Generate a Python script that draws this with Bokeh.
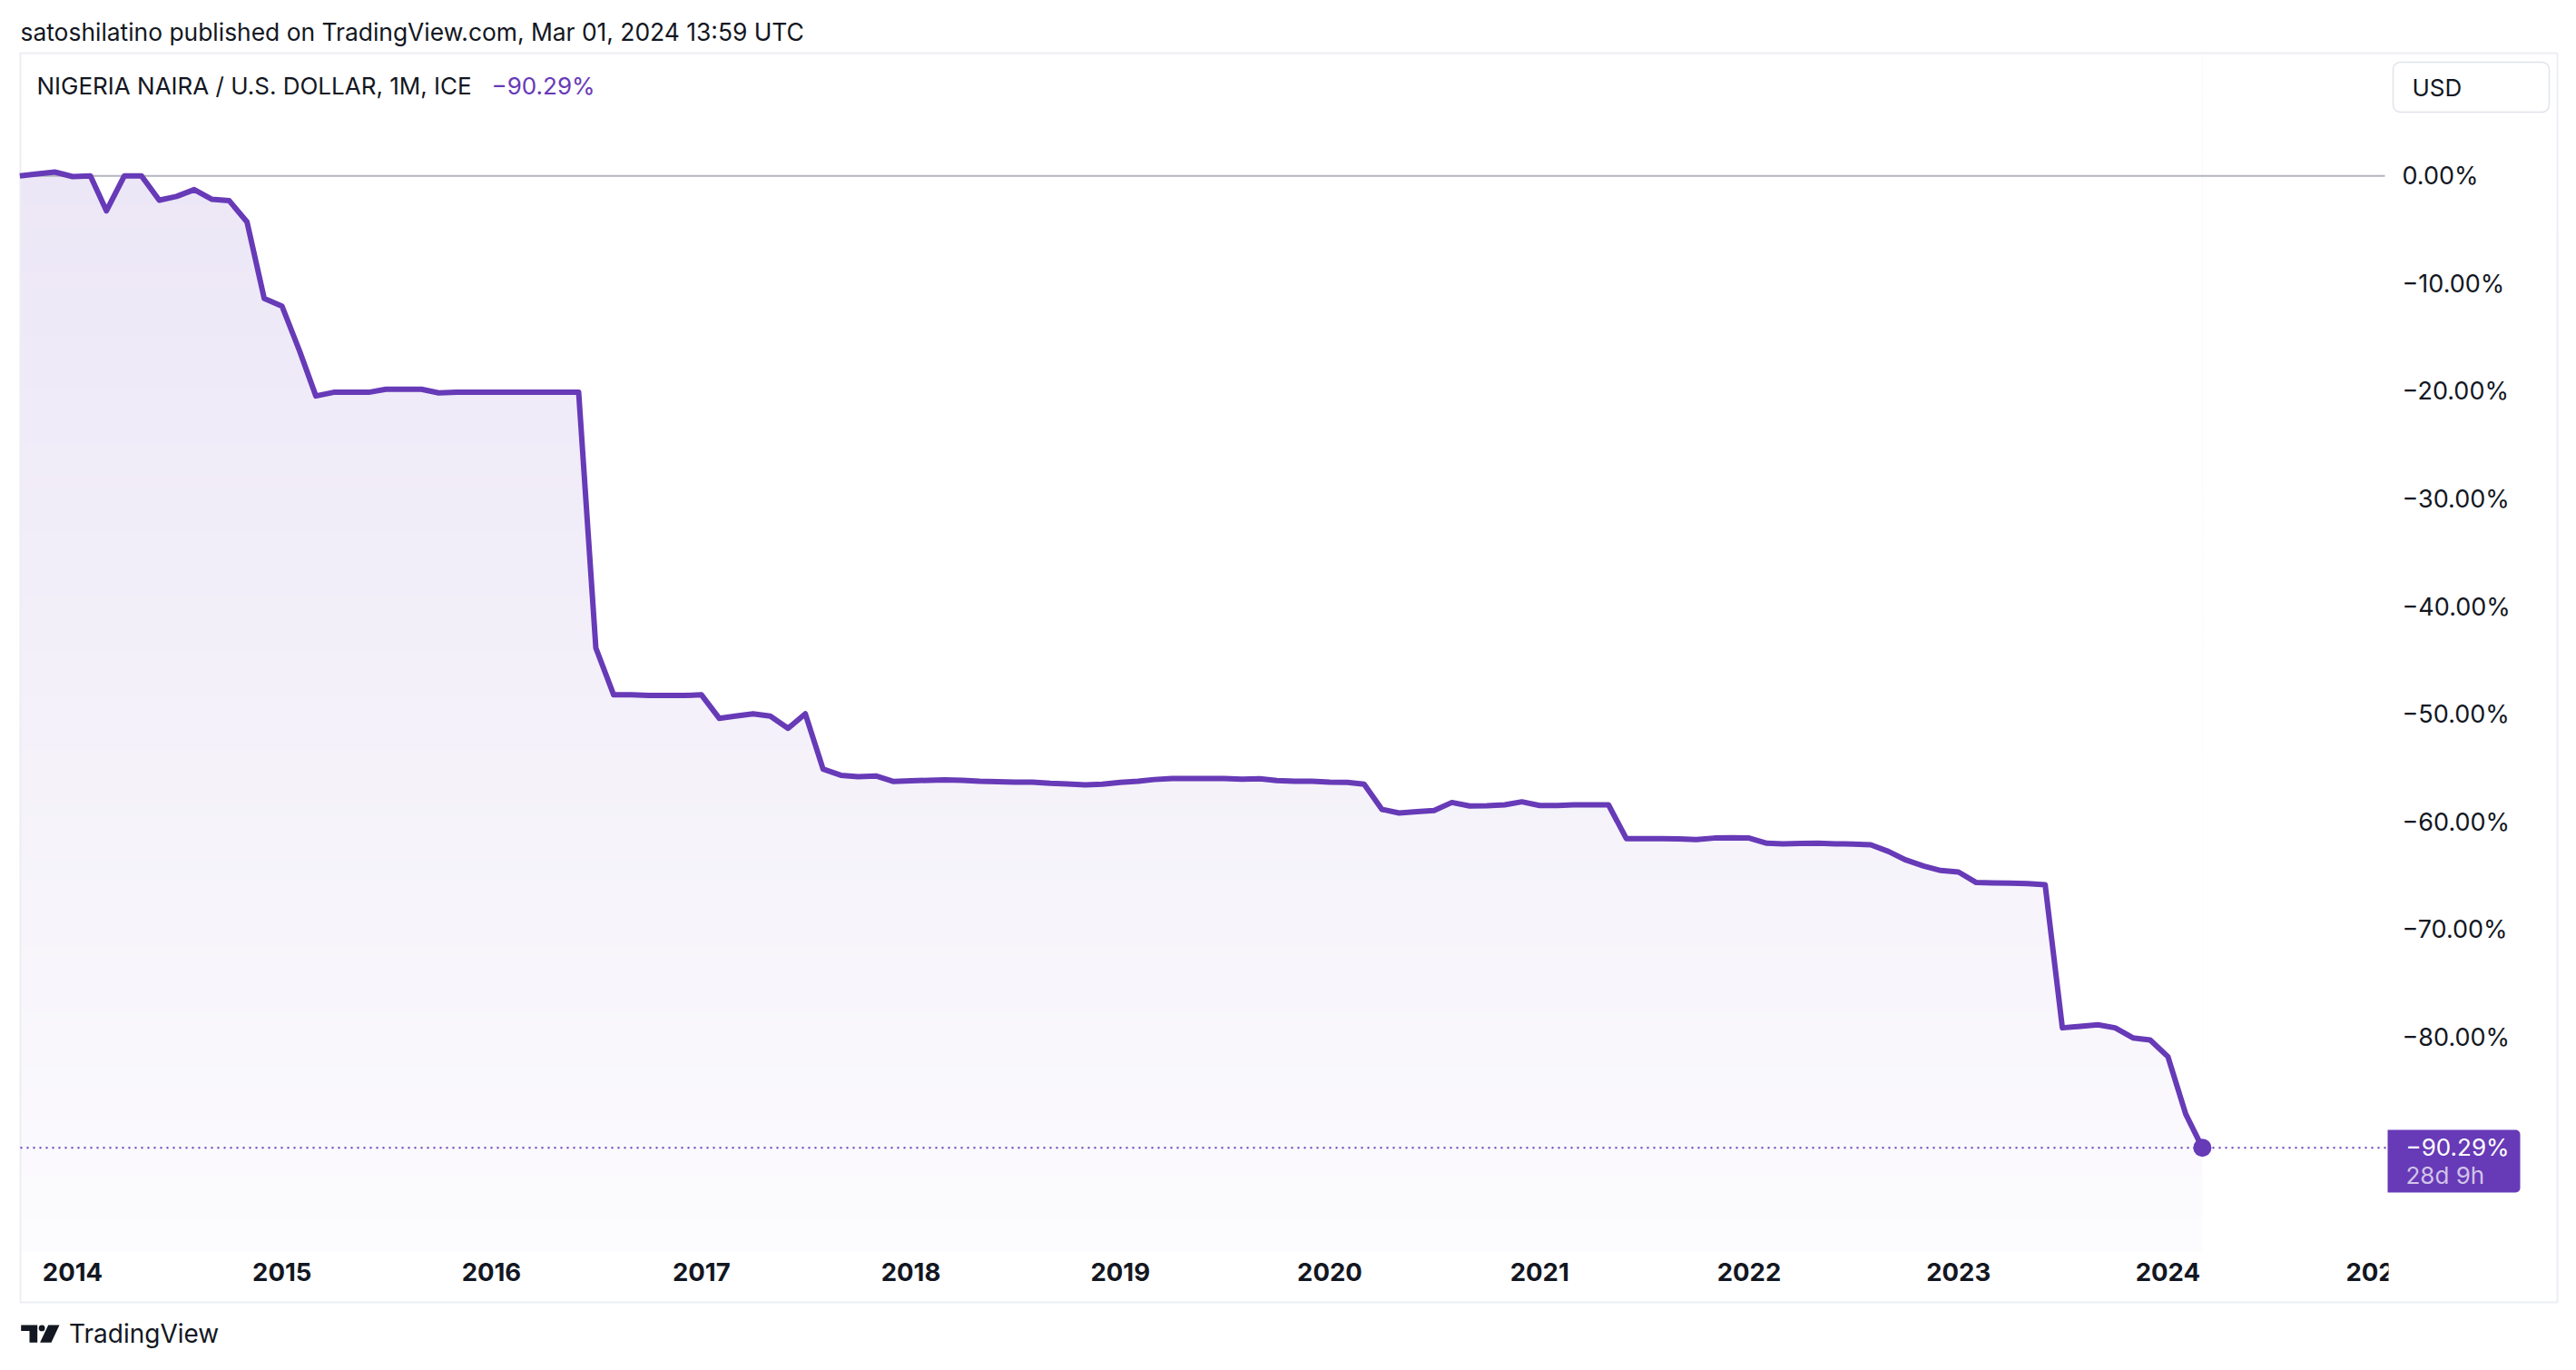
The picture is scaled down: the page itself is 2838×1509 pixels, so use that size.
import numpy as np
import pandas as pd
from bokeh.plotting import figure
from bokeh.models import Range1d, LinearAxis, DatetimeAxis, FixedTicker, BoxAnnotation, ColumnDataSource
from bokeh.core.properties import value
from bokeh.embed import file_html
from bokeh.resources import INLINE

# ---------------- data ----------------
first_month = "2013-10-01"   # monthly bars, one per month
pct_change = [
    0.0, 0.2, 0.36,                                                   # 2013 Oct-Dec
    -0.06, 0.0, -3.24, 0.0, 0.0, -2.25, -1.9, -1.27, -2.17, -2.3, -4.28, -11.39,      # 2014
    -12.1, -16.32, -20.44, -20.1, -20.1, -20.1, -19.82, -19.82, -19.82, -20.16, -20.1, -20.1,  # 2015
    -20.1, -20.1, -20.1, -20.1, -20.1, -20.1, -43.86, -48.21, -48.21, -48.27, -48.27, -48.27,  # 2016
    -48.21, -50.39, -50.19, -49.97, -50.19, -51.32, -49.97, -55.11, -55.68, -55.82, -55.75, -56.25,  # 2017
    -56.19, -56.15, -56.11, -56.15, -56.24, -56.29, -56.32, -56.32, -56.43, -56.49, -56.57, -56.52,  # 2018
    -56.35, -56.24, -56.08, -55.98, -55.98, -55.98, -55.98, -56.04, -56.01, -56.18, -56.24, -56.24,  # 2019
    -56.32, -56.35, -56.52, -58.85, -59.19, -59.06, -58.95, -58.21, -58.54, -58.52, -58.43, -58.15,  # 2020
    -58.49, -58.49, -58.43, -58.43, -58.43, -61.57, -61.57, -61.57, -61.6, -61.66, -61.52, -61.49,   # 2021
    -61.52, -62.0, -62.05, -62.02, -62.0, -62.05, -62.08, -62.14, -62.76, -63.55, -64.12, -64.53,    # 2022
    -64.67, -65.65, -65.68, -65.71, -65.74, -65.85, -79.15, -79.01, -78.87, -79.15, -80.08, -80.28,  # 2023
    -81.83, -87.17, -90.29,                                           # 2024 Jan-Mar
]
y_ticks = [0, -10, -20, -30, -40, -50, -60, -70, -80]
y_tick_labels = ["0.00%", "\u221210.00%", "\u221220.00%", "\u221230.00%", "\u221240.00%",
                 "\u221250.00%", "\u221260.00%", "\u221270.00%", "\u221280.00%"]
x_tick_years = [2014, 2015, 2016, 2017, 2018, 2019, 2020, 2021, 2022, 2023, 2024, 2025]
x_tick_labels = ["2014", "2015", "2016", "2017", "2018", "2019", "2020", "2021", "2022", "2023", "2024", "2025"]

title_text = "satoshilatino published on TradingView.com, Mar 01, 2024 13:59 UTC"
legend_text = "NIGERIA NAIRA / U.S. DOLLAR, 1M, ICE"
legend_change = "\u221290.29%"
last_label = "\u221290.29%"
countdown_label = "28d 9h"
currency_label = "USD"
brand_text = "TradingView"

# ---------------- colours / fonts ----------------
PURPLE = "#673ab7"
TEXT = "#131722"
FONT = "Inter"

# ---------------- layout (page pixels; the canvas starts at the page corner) ----------------
W, H = 2830, 1500
DAY_MS = 86400000.0
EPOCH_2014 = pd.Timestamp("2014-01-01").value / 1e6
X_2014 = 79.5          # page x of 1 Jan 2014
PX_PER_DAY = 0.6321
Y_ZERO = 193.3         # page y of 0 %
PX_PER_PCT = 11.855


def xd(px):
    return EPOCH_2014 + (px - X_2014) / PX_PER_DAY * DAY_MS


def yd(py):
    return -(py - Y_ZERO) / PX_PER_PCT


months = pd.date_range(first_month, periods=len(pct_change), freq="MS")
x_ms = np.asarray((months - pd.Timestamp("1970-01-01")) / pd.Timedelta(milliseconds=1), dtype=float)
vals = np.asarray(pct_change, dtype=float)
x_ticks_ms = [float((pd.Timestamp(f"{y}-01-01") - pd.Timestamp("1970-01-01")) / pd.Timedelta(milliseconds=1))
              for y in x_tick_years]

p = figure(width=W, height=H,
           x_range=Range1d(xd(0), xd(W)), y_range=Range1d(yd(H), yd(0)),
           x_axis_location=None, y_axis_location=None,
           toolbar_location=None, output_backend="svg", min_border=0,
           outline_line_color=None, background_fill_color="white", border_fill_color="white")
p.xgrid.visible = False
p.ygrid.visible = False

# ---- gradient area under the line ----
PANE_TOP, PANE_BOTTOM = 58, 1378
N = 110
edges = np.linspace(PANE_TOP, PANE_BOTTOM, N + 1)
mids = (edges[:-1] + edges[1:]) / 2
alpha = np.clip(0.125 + (0.02 - 0.125) * (mids - 190) / (PANE_BOTTOM - 190), 0.02, 0.125)
base = np.array([0x67, 0x3a, 0xb7], dtype=float)
cols = []
for a in alpha:
    c = 255 * (1 - a) + base * a
    cols.append("#%02x%02x%02x" % tuple(int(round(v)) for v in c))
grad = ColumnDataSource(dict(
    left=[x_ms[0]] * N, right=[x_ms[-1]] * N,
    top=[yd(e - 0.7) for e in edges[:-1]], bottom=[yd(e + 0.7) for e in edges[1:]],
    color=cols))
p.quad(left="left", right="right", top="top", bottom="bottom", fill_color="color",
       line_color=None, source=grad)
# white above the line
p.varea(x=x_ms, y1=vals, y2=yd(50), fill_color="white")

# ---- frame border ----
p.quad(left=xd(22), right=xd(2817), top=yd(58), bottom=yd(1434),
       fill_color=None, line_color="#eceef3", line_width=2)

# ---- zero line and last-value line ----
p.segment(x0=xd(22), y0=0, x1=xd(2627), y1=0, line_color="#b2b5be", line_width=2)
p.segment(x0=xd(22), y0=vals[-1], x1=xd(2630), y1=vals[-1],
          line_color=PURPLE, line_width=2, line_dash="2 5")

# ---- series ----
p.line(x_ms, vals, line_color=PURPLE, line_width=6, line_join="round")
p.scatter([x_ms[-1]], [vals[-1]], size=20, fill_color=PURPLE, line_color=None)

# ---- texts ----
def txt(x, y, s, size="26px", color=TEXT, style="normal", align="left"):
    p.text(x=[x], y=[y], text=[s], text_font=value(FONT), text_font_size=size,
           text_color=color, text_font_style=style, text_baseline="middle", text_align=align)

txt(xd(22), yd(34), title_text, size="26.4px")
txt(xd(40), yd(94.2), legend_text)
txt(xd(541), yd(94.2), legend_change, color=PURPLE)

# USD box
p.quad(left=xd(2636), right=xd(2808), top=yd(68), bottom=yd(123),
       fill_color="white", line_color="#e0e3eb", line_width=1.5, border_radius=8)
txt(xd(2657), yd(96.3), currency_label)

# last value box
p.quad(left=xd(2630), right=xd(2776), top=yd(1244), bottom=yd(1313),
       fill_color=PURPLE, line_color=None, border_radius=(0, 5, 5, 0))
txt(xd(2650), yd(1262.5), last_label, color="white")
txt(xd(2650), yd(1293.7), countdown_label, color="#d1c4e9")

# brand
p.patch(x=[xd(v) for v in (22.7, 40.7, 40.7, 32, 32, 22.7)],
        y=[yd(v) for v in (1459, 1459, 1478.3, 1478.3, 1465.5, 1465.5)],
        fill_color=TEXT, line_color=None)
p.patch(x=[xd(v) for v in (52.7, 65, 56, 43.6)],
        y=[yd(v) for v in (1459, 1459, 1478.3, 1478.3)],
        fill_color=TEXT, line_color=None)
p.scatter([xd(45.6)], [yd(1462.4)], size=6.8, fill_color=TEXT, line_color=None)
txt(xd(75.5), yd(1468.7), brand_text, size="28px")

# ---- axes ----
yax = LinearAxis(fixed_location=xd(2630), ticker=FixedTicker(ticks=y_ticks),
                 major_label_overrides=dict(zip(y_ticks, y_tick_labels)),
                 axis_line_color=None, major_tick_line_color=None, minor_tick_line_color=None,
                 major_tick_out=0, major_tick_in=0, major_label_standoff=16,
                 major_label_text_font=FONT, major_label_text_font_size="27px",
                 major_label_text_color=TEXT)
p.add_layout(yax, "right")

xax = DatetimeAxis(fixed_location=yd(1378), ticker=FixedTicker(ticks=x_ticks_ms),
                   major_label_overrides=dict(zip(x_ticks_ms, x_tick_labels)),
                   axis_line_color=None, major_tick_line_color=None, minor_tick_line_color=None,
                   major_tick_out=0, major_tick_in=0, major_label_standoff=12,
                   major_label_text_font=FONT, major_label_text_font_size="27.5px",
                   major_label_text_font_style="bold", major_label_text_color=TEXT)
p.add_layout(xax, "below")

# hide the part of the last year label that runs into the price scale
p.add_layout(BoxAnnotation(left=xd(2631), right=xd(2814), top=yd(1382), bottom=yd(1430),
                           fill_color="white", fill_alpha=1.0, line_color=None, level="overlay"))

open("out.html", "w").write(file_html(p, INLINE, title="NGN/USD"))
